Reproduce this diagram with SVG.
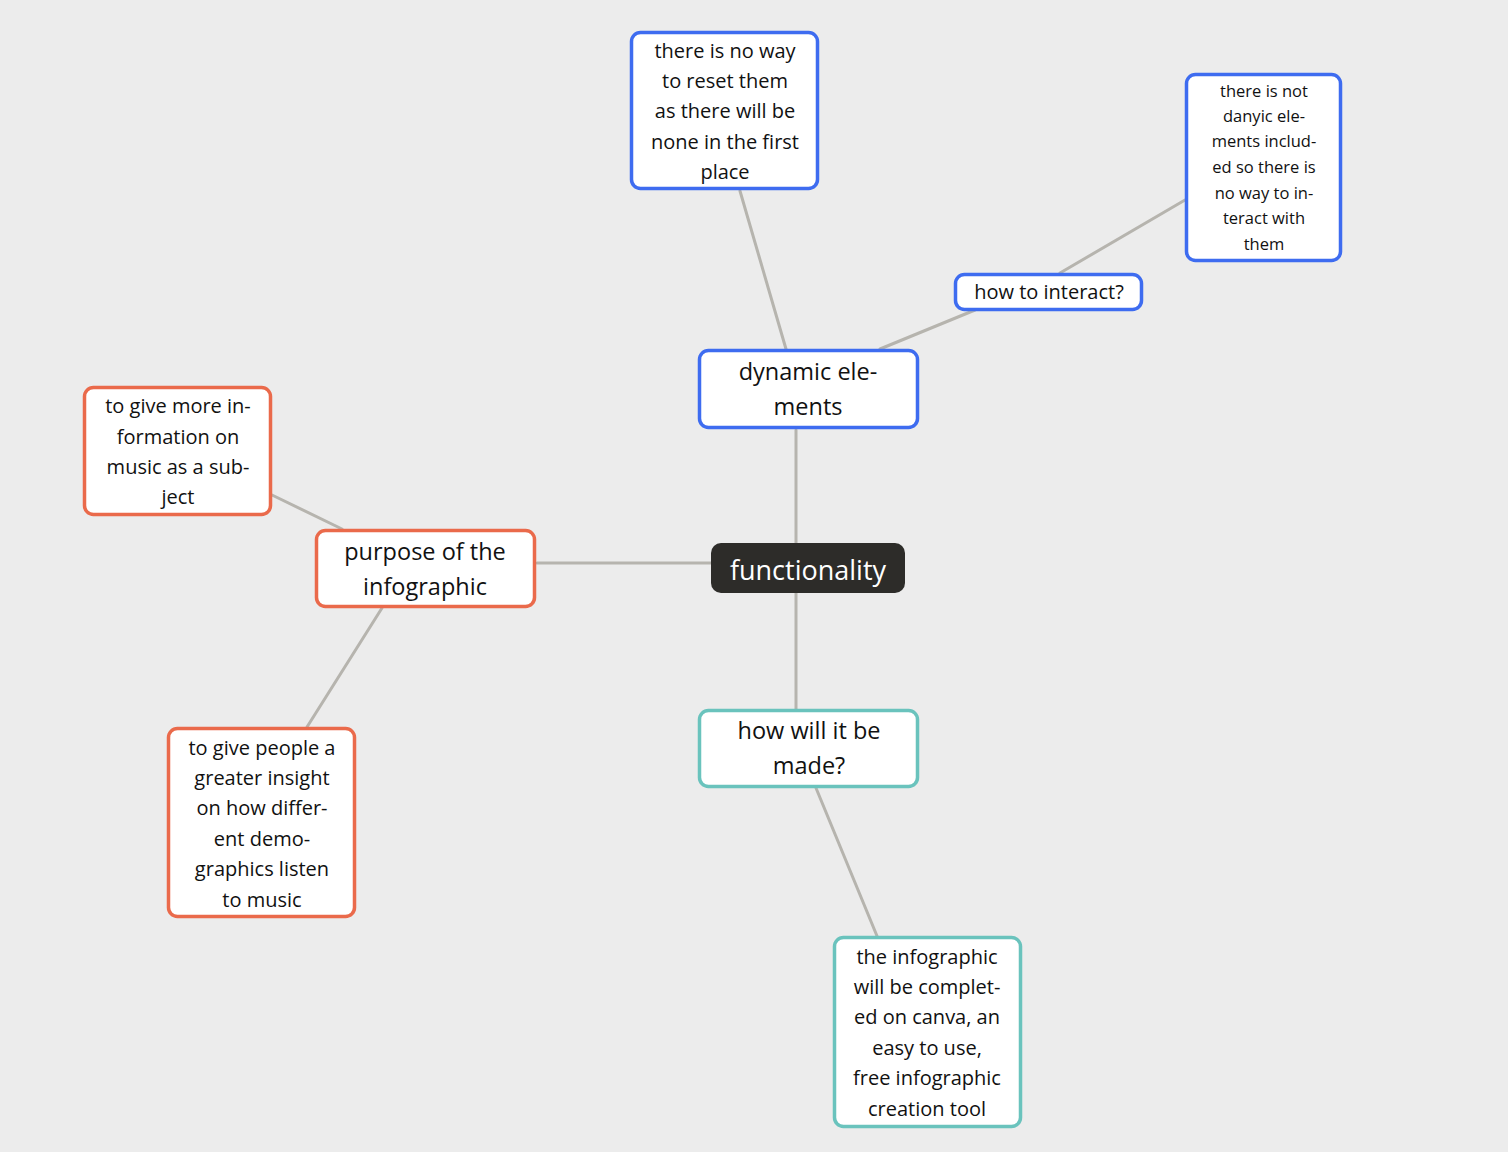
<svg xmlns="http://www.w3.org/2000/svg" width="1508" height="1152" viewBox="0 0 1508 1152">
<style>
.bg{fill:#ececec}
.n{fill:#fff;stroke-width:3.5}
.blue{stroke:#3e6cf0}
.red{stroke:#ea6a4b}
.teal{stroke:#6ac3bd}
.c{stroke:#b6b4ae;stroke-width:3;fill:none;stroke-linecap:round}
text{font-family:"Open Sans","Noto Sans","Liberation Sans",sans-serif;fill:#111;text-anchor:middle}
.t16{font-size:16.5px}
.t20{font-size:20px}
.t24{font-size:23.5px}
.t28{font-size:27px;fill:#fff}
</style>
<rect class="bg" x="0" y="0" width="1508" height="1152"/>
<g id="connectors">
<line class="c" x1="537" y1="563" x2="712" y2="563"/>
<line class="c" x1="796" y1="430" x2="796" y2="544"/>
<line class="c" x1="796" y1="592" x2="796" y2="710"/>
<line class="c" x1="740" y1="191" x2="786" y2="349"/>
<line class="c" x1="880" y1="349" x2="975" y2="310"/>
<line class="c" x1="1060" y1="273" x2="1185" y2="200"/>
<line class="c" x1="272" y1="495" x2="342" y2="529"/>
<line class="c" x1="382" y1="608" x2="307" y2="727"/>
<line class="c" x1="816" y1="788" x2="877" y2="936"/>
</g>
<g id="functionality">
<rect x="711" y="543" width="194" height="50" rx="10" fill="#2d2c29"/>
<text class="t28" x="808" y="580">functionality</text>
</g>
<g id="dynamic-elements">
<rect class="n blue" x="699.5" y="350.5" width="218" height="77" rx="9"/>
<text class="t24"><tspan x="808" y="380">dynamic ele-</tspan><tspan x="808" y="415">ments</tspan></text>
</g>
<g id="no-way-reset">
<rect class="n blue" x="631.5" y="32.5" width="186" height="156" rx="9"/>
<text class="t20"><tspan x="725" y="58">there is no way</tspan><tspan x="725" y="88">to reset them</tspan><tspan x="725" y="118">as there will be</tspan><tspan x="725" y="149">none in the first</tspan><tspan x="725" y="179">place</tspan></text>
</g>
<g id="how-to-interact">
<rect class="n blue" x="955.5" y="274.5" width="186" height="35" rx="9"/>
<text class="t20" x="1049" y="299">how to interact?</text>
</g>
<g id="not-dynamic">
<rect class="n blue" x="1186.5" y="74.5" width="154" height="186" rx="9"/>
<text class="t16"><tspan x="1264" y="97">there is not</tspan><tspan x="1264" y="122">danyic ele-</tspan><tspan x="1264" y="147">ments includ-</tspan><tspan x="1264" y="173">ed so there is</tspan><tspan x="1264" y="199">no way to in-</tspan><tspan x="1264" y="224">teract with</tspan><tspan x="1264" y="250">them</tspan></text>
</g>
<g id="purpose">
<rect class="n red" x="316.5" y="530.5" width="218" height="76" rx="9"/>
<text class="t24"><tspan x="425" y="560">purpose of the</tspan><tspan x="425" y="595">infographic</tspan></text>
</g>
<g id="more-information">
<rect class="n red" x="84.5" y="387.5" width="186" height="127" rx="9"/>
<text class="t20"><tspan x="178" y="413">to give more in-</tspan><tspan x="178" y="444">formation on</tspan><tspan x="178" y="474">music as a sub-</tspan><tspan x="178" y="504">ject</tspan></text>
</g>
<g id="greater-insight">
<rect class="n red" x="168.5" y="728.5" width="186" height="188" rx="9"/>
<text class="t20"><tspan x="262" y="755">to give people a</tspan><tspan x="262" y="785">greater insight</tspan><tspan x="262" y="815">on how differ-</tspan><tspan x="262" y="846">ent demo-</tspan><tspan x="262" y="876">graphics listen</tspan><tspan x="262" y="907">to music</tspan></text>
</g>
<g id="how-made">
<rect class="n teal" x="699.5" y="710.5" width="218" height="76" rx="9"/>
<text class="t24"><tspan x="809" y="739">how will it be</tspan><tspan x="809" y="774">made?</tspan></text>
</g>
<g id="canva">
<rect class="n teal" x="834.5" y="937.5" width="186" height="189" rx="9"/>
<text class="t20"><tspan x="927" y="964">the infographic</tspan><tspan x="927" y="994">will be complet-</tspan><tspan x="927" y="1024">ed on canva, an</tspan><tspan x="927" y="1055">easy to use,</tspan><tspan x="927" y="1085">free infographic</tspan><tspan x="927" y="1116">creation tool</tspan></text>
</g>
</svg>
